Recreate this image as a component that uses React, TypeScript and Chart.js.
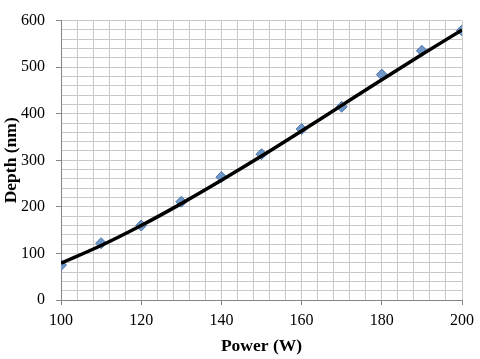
import React, { useEffect, useRef } from "react";
import { Chart, registerables } from "chart.js";

Chart.register(...registerables);

const powers = [100, 110, 120, 130, 140, 150, 160, 170, 180, 190, 200];
const depths = [75, 122, 160, 211, 264, 313, 367, 415, 484, 535, 579];
const trendDepths = [79, 117, 160, 207, 257, 309, 363, 418, 473, 527, 580];

const xTitle = "Power (W)";
const yTitle = "Depth (nm)";

export default function App() {
  const ref = useRef<HTMLCanvasElement | null>(null);
  useEffect(() => {
    document.body.style.margin = "0";
    const ctx = ref.current!;
    const family = "'Liberation Serif', 'Times New Roman', serif";
    const font = { family, size: 16 };
    const titleFont = { family, size: 17.5, weight: "bold" as const };
    const chart = new Chart(ctx, {
      type: "scatter",
      data: {
        datasets: [
          {
            label: "trend",
            data: powers.map((p, i) => ({ x: p, y: trendDepths[i] })),
            showLine: true,
            borderColor: "#000000",
            borderWidth: 3.5,
            pointRadius: 0,
            cubicInterpolationMode: "monotone",
          } as any,
          {
            label: "Depth",
            data: powers.map((p, i) => ({ x: p, y: depths[i] })),
            pointStyle: "rectRot",
            pointRadius: 5.5,
            backgroundColor: "#6f98c8",
            borderColor: "#4a75ad",
            borderWidth: 1,
          },
        ],
      },
      options: {
        animation: false,
        responsive: false,
        layout: { padding: { top: 11, right: 18, left: 0, bottom: 0 } },
        plugins: { legend: { display: false }, tooltip: { enabled: false } },
        scales: {
          x: {
            type: "linear",
            min: 100,
            max: 200,
            afterFit: (s: any) => { s.height = 59; },
            ticks: {
              stepSize: 4,
              autoSkip: false,
              maxRotation: 0,
              padding: 6,
              color: "#000",
              font,
              callback: (v: any) => (Number(v) % 20 === 0 ? String(v) : ""),
            },
            grid: {
              color: "#c8c8c8",
              lineWidth: 1,
              tickLength: 5,
              tickColor: (c: any) => (c.tick && c.tick.value % 20 === 0 ? "#868686" : "rgba(0,0,0,0)"),
            },
            border: { color: "#868686" },
            title: {
              display: true,
              text: xTitle,
              color: "#000",
              font: titleFont,
              padding: { top: 2, bottom: 2 },
            },
          },
          y: {
            type: "linear",
            min: 0,
            max: 600,
            afterFit: (s: any) => { s.width = 61; },
            ticks: {
              stepSize: 20,
              autoSkip: false,
              padding: 11,
              color: "#000",
              font,
              callback: (v: any) => (Number(v) % 100 === 0 ? String(v) : ""),
            },
            grid: {
              color: "#c8c8c8",
              lineWidth: 1,
              tickLength: 5,
              tickColor: (c: any) => (c.tick && c.tick.value % 100 === 0 ? "#868686" : "rgba(0,0,0,0)"),
            },
            border: { color: "#868686" },
            title: {
              display: true,
              text: yTitle,
              color: "#000",
              font: titleFont,
              padding: { top: 1, bottom: 2 },
            },
          },
        },
      },
    });
    return () => chart.destroy();
  }, []);
  return <canvas ref={ref} width={480} height={359} style={{ display: "block" }} />;
}
